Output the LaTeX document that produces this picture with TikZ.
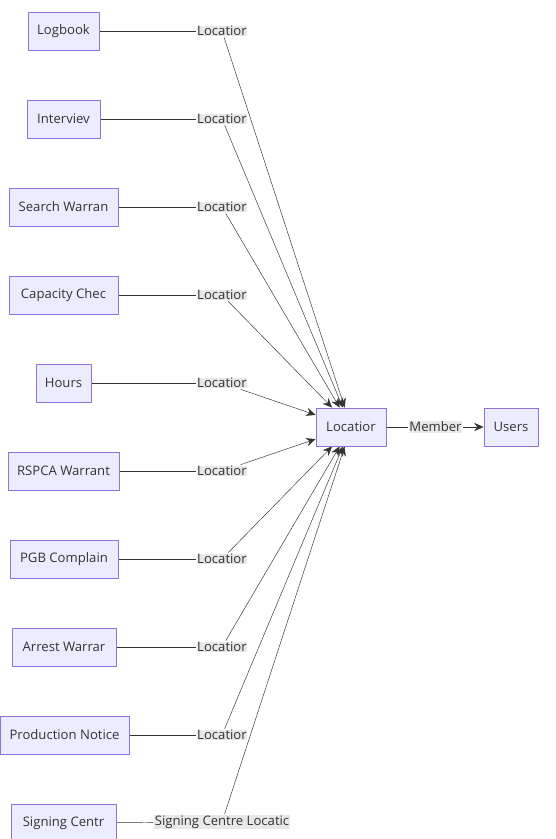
\documentclass[tikz,border=0pt]{standalone}
\usepackage{fontspec}
\setmainfont{Open Sans}
\usetikzlibrary{arrows.meta,backgrounds}
\definecolor{boxfill}{HTML}{ECECFF}
\definecolor{boxline}{HTML}{9370DB}
\definecolor{lblfill}{HTML}{E8E8E8}
\definecolor{linecol}{HTML}{333333}

\begin{document}
\begin{tikzpicture}[x=0.03cm, y=-0.03cm, >={Stealth[length=8pt, width=7pt]}, line width=1.5pt,
    box/.style={draw=boxline, fill=boxfill, line width=0.7pt, minimum height=1.14cm,
                inner sep=1pt, text=linecol, font=\fontsize{11.2}{13}\selectfont},
    lbl/.style={fill=lblfill, inner sep=0.5pt, text=linecol, font=\fontsize{11.2}{13}\selectfont},
    link/.style={draw=linecol}]
    \useasboundingbox (0,0) rectangle (555,839);

    % source boxes
    \node[box, minimum width=2.13cm] (logbook)    at (63.5,31)  {Logbook};
    \node[box, minimum width=2.19cm] (interview)  at (63.5,119) {Interviev};
    \node[box, minimum width=3.27cm] (search)     at (63.5,207) {Search Warran};
    \node[box, minimum width=3.27cm] (capacity)   at (63.5,295) {Capacity Chec};
    \node[box, minimum width=1.65cm] (hours)      at (63.5,383) {Hours};
    \node[box, minimum width=3.33cm] (rspca)      at (63.5,471) {RSPCA Warrant};
    \node[box, minimum width=3.24cm] (pgb)        at (64,559)   {PGB Complain};
    \node[box, minimum width=3.12cm] (arrest)     at (64,647)   {Arrest Warrar};
    \node[box, minimum width=3.87cm] (production) at (64.5,735) {Production Notice};
    \node[box, minimum width=3.15cm] (signing)    at (63.5,823) {Signing Centr};

    % edge labels
    \node[lbl] (lab-logbook)    at (222,31)  {Locatior};
    \node[lbl] (lab-interview)  at (222,119) {Locatior};
    \node[lbl] (lab-search)     at (222,207) {Locatior};
    \node[lbl] (lab-capacity)   at (222,295) {Locatior};
    \node[lbl] (lab-hours)      at (222,383) {Locatior};
    \node[lbl] (lab-rspca)      at (222,471) {Locatior};
    \node[lbl] (lab-pgb)        at (222,559) {Locatior};
    \node[lbl] (lab-arrest)     at (222,647) {Locatior};
    \node[lbl] (lab-production) at (222,735) {Locatior};
    \node[lbl] (lab-signing)    at (222,822) {Signing Centre Locatic};

    % target boxes
    \node[box, minimum width=2.1cm]  (loc)   at (351,427) {Locatior};
    \node[box, minimum width=1.62cm] (users) at (511,427) {Users};
    \node[lbl] (mem) at (435.5,427) {Member};

    % connectors
    \begin{scope}[on background layer]
      \draw[link] (logbook)    -- (lab-logbook);
      \draw[link] (interview)  -- (lab-interview);
      \draw[link] (search)     -- (lab-search);
      \draw[link] (capacity)   -- (lab-capacity);
      \draw[link] (hours)      -- (lab-hours);
      \draw[link] (rspca)      -- (lab-rspca);
      \draw[link] (pgb)        -- (lab-pgb);
      \draw[link] (arrest)     -- (lab-arrest);
      \draw[link] (production) -- (lab-production);
      \draw[link] (signing)    -- (lab-signing);

      \draw[link, ->] (lab-logbook)    -- (loc);
      \draw[link, ->] (lab-interview)  -- (loc);
      \draw[link, ->] (lab-search)     -- (loc);
      \draw[link, ->] (lab-capacity)   -- (loc);
      \draw[link, ->] (lab-hours)      -- (loc);
      \draw[link, ->] (lab-rspca)      -- (loc);
      \draw[link, ->] (lab-pgb)        -- (loc);
      \draw[link, ->] (lab-arrest)     -- (loc);
      \draw[link, ->] (lab-production) -- (loc);
      \draw[link, ->] (lab-signing)    -- (loc);

      \draw[link] (loc) -- (mem);
      \draw[link, ->] (mem) -- (users);
    \end{scope}
\end{tikzpicture}
\end{document}
